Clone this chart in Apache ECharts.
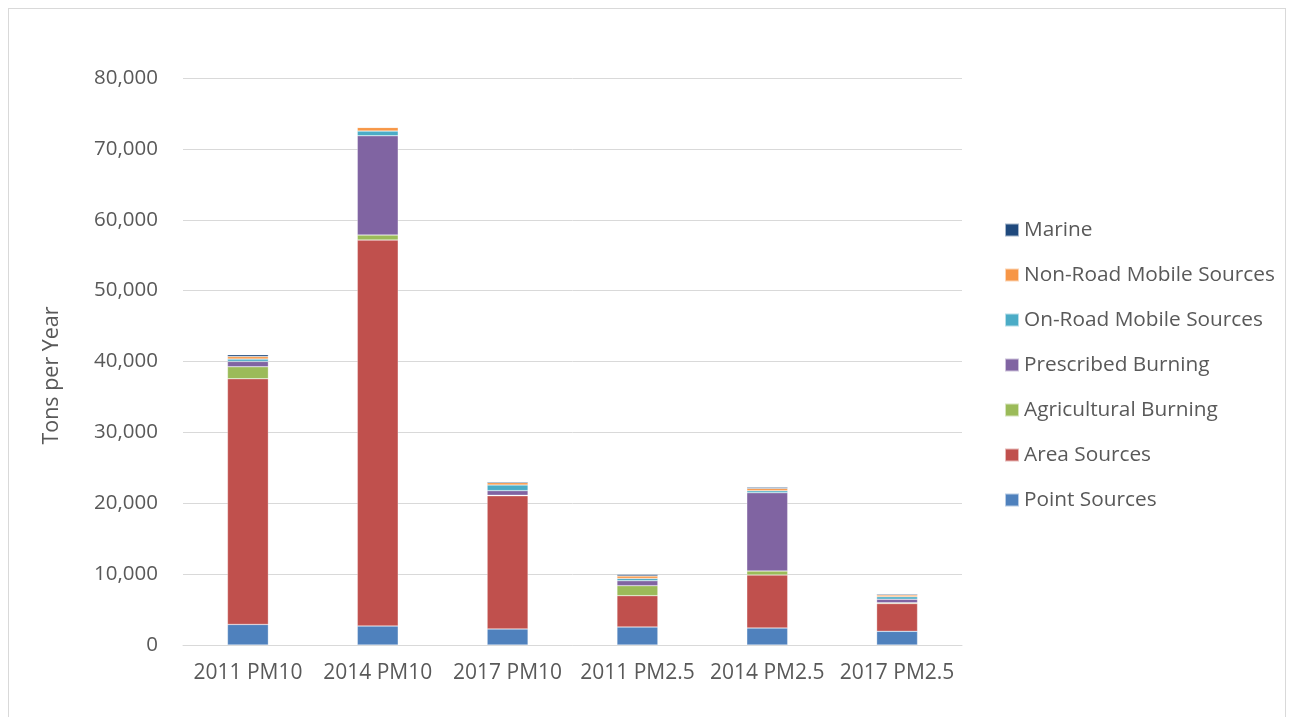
<!DOCTYPE html>
<html>
<head>
<meta charset="utf-8">
<script src="https://cdn.jsdelivr.net/npm/echarts@6/dist/echarts.min.js"></script>
<style>
html,body{margin:0;padding:0;background:#fff;}
#frame{position:absolute;left:8px;top:8px;width:1278px;height:720px;border:1px solid #d9d9d9;box-sizing:border-box;}
#chart{position:absolute;left:0;top:0;width:1295px;height:717px;}
</style>
</head>
<body>
<div id="frame"></div>
<div id="chart"></div>
<script>
const categories = ['2011 PM10', '2014 PM10', '2017 PM10', '2011 PM2.5', '2014 PM2.5', '2017 PM2.5'];
const pointSources = [2900, 2680, 2260, 2540, 2400, 1930];
const areaSources = [34670, 54460, 18800, 4420, 7480, 3920];
const agriculturalBurning = [1690, 700, 60, 1410, 560, 100];
const prescribedBurning = [750, 14010, 660, 700, 11050, 520];
const onRoadMobile = [330, 660, 800, 330, 260, 330];
const nonRoadMobile = [350, 520, 330, 330, 330, 240];
const marine = [280, 40, 140, 200, 180, 140];
const yTicks = [0, 10000, 20000, 30000, 40000, 50000, 60000, 70000, 80000];

const seriesDefs = [
  ['Point Sources', pointSources, '#4F81BD'],
  ['Area Sources', areaSources, '#C0504D'],
  ['Agricultural Burning', agriculturalBurning, '#9BBB59'],
  ['Prescribed Burning', prescribedBurning, '#8064A2'],
  ['On-Road Mobile Sources', onRoadMobile, '#4BACC6'],
  ['Non-Road Mobile Sources', nonRoadMobile, '#F79646'],
  ['Marine', marine, '#1F497D']
];

const chart = echarts.init(document.getElementById('chart'), null, {renderer: 'canvas'});
const font = 'Open Sans';
chart.setOption({
  animation: false,
  grid: {left: 183, right: 333, top: 78, bottom: 72, containLabel: false},
  legend: {
    orient: 'vertical',
    left: 1004,
    top: 218,
    padding: 0,
    itemWidth: 14,
    itemHeight: 13,
    itemGap: 21,
    icon: 'rect',
    data: seriesDefs.map(s => s[0]).reverse(),
    textStyle: {fontFamily: font, fontSize: 20.8, color: '#595959', lineHeight: 24}
  },
  xAxis: {
    type: 'category',
    data: categories,
    axisLine: {lineStyle: {color: '#d9d9d9', width: 1}},
    axisTick: {show: false},
    axisLabel: {fontFamily: font, fontSize: 21, color: '#595959', margin: 18, interval: 0}
  },
  yAxis: {
    type: 'value',
    min: yTicks[0],
    max: yTicks[yTicks.length - 1],
    interval: 10000,
    name: 'Tons per Year',
    nameLocation: 'middle',
    nameGap: 120,
    nameRotate: 90,
    nameTextStyle: {fontFamily: font, fontSize: 21.5, color: '#595959', padding: [0, 28, 0, 0]},
    axisLine: {show: false},
    axisTick: {show: false},
    splitLine: {lineStyle: {color: '#d9d9d9', width: 1}},
    axisLabel: {
      fontFamily: font, fontSize: 20.5, color: '#595959', margin: 25,
      formatter: v => v.toLocaleString('en-US')
    }
  },
  series: seriesDefs.map(([name, data, color]) => ({
    name: name,
    type: 'bar',
    stack: 'total',
    data: data,
    barWidth: '31.5%',
    itemStyle: {color: color, borderColor: 'rgba(255,255,255,0.6)', borderWidth: 0.5}
  }))
});
</script>
</body>
</html>
